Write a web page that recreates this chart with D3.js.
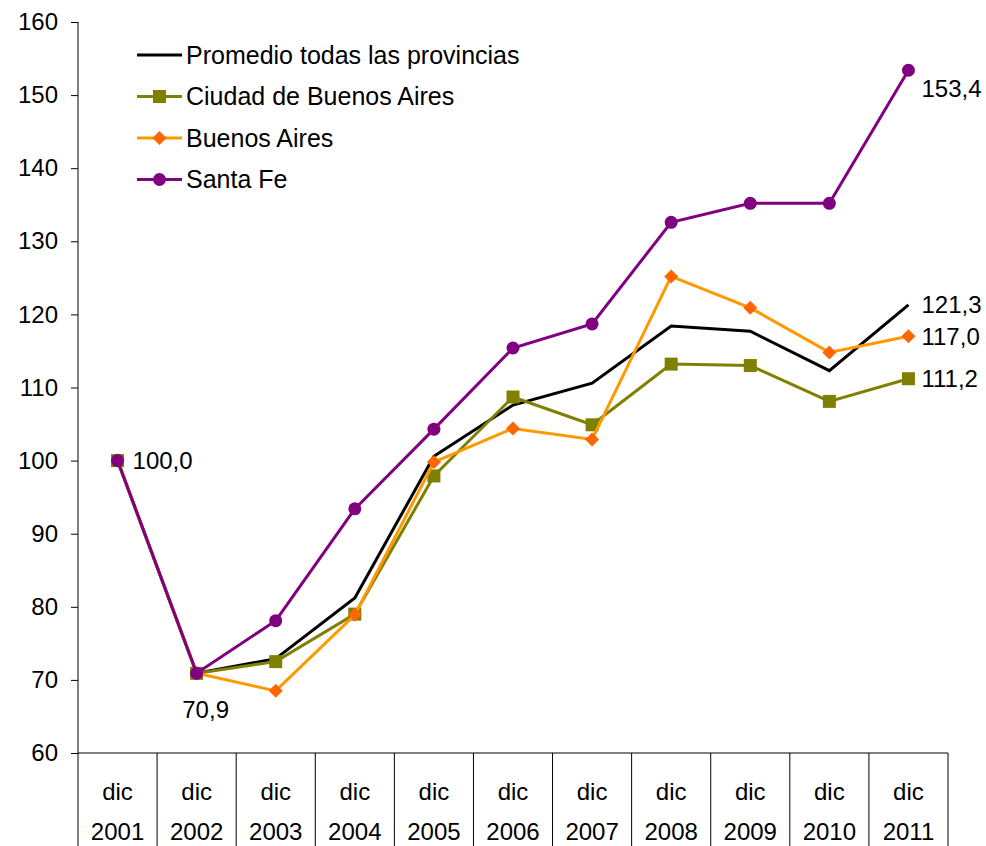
<!DOCTYPE html>
<html>
<head>
<meta charset="utf-8">
<script src="https://cdn.jsdelivr.net/npm/d3@7"></script>
<style>
  body { margin: 0; background: #fff; }
  svg text { font-family: "Liberation Sans", Arial, sans-serif; fill: #000; }
</style>
</head>
<body>
<svg width="986" height="846"></svg>
<script>
// data
const years = ['2001','2002','2003','2004','2005','2006','2007','2008','2009','2010','2011'];
const yTicks = [60, 70, 80, 90, 100, 110, 120, 130, 140, 150, 160];
const promedio = [100.0, 70.9, 72.9, 81.2, 100.6, 107.6, 110.6, 118.4, 117.7, 112.3, 121.3];
const ciudad   = [100.0, 70.9, 72.5, 79.0, 97.9, 108.7, 104.9, 113.2, 113.0, 108.1, 111.2];
const bsas     = [100.0, 70.9, 68.5, 78.9, 99.8, 104.4, 102.9, 125.2, 120.9, 114.8, 117.0];
const santaFe  = [100.0, 70.9, 78.1, 93.4, 104.3, 115.4, 118.7, 132.6, 135.2, 135.2, 153.4];

const series = [
  { name: 'Promedio todas las provincias', values: promedio, line: '#000000', fill: null, marker: 'none' },
  { name: 'Ciudad de Buenos Aires', values: ciudad, line: '#808000', fill: '#808000', marker: 'square' },
  { name: 'Buenos Aires', values: bsas, line: '#FF9900', fill: '#FF6600', marker: 'diamond' },
  { name: 'Santa Fe', values: santaFe, line: '#800080', fill: '#800080', marker: 'circle' }
];

// labels shown on the chart: [series index, point index, text, dx, dy, anchor]
const pointLabels = [
  [3, 0, '100,0', 15, 0, 'start'],
  [3, 1, '70,9', 9, 36, 'middle'],
  [3, 10, '153,4', 13, 18, 'start'],
  [0, 10, '121,3', 13, 0, 'start'],
  [2, 10, '117,0', 13, 0, 'start'],
  [1, 10, '111,2', 13, 0, 'start']
];

const plotLeft = 78, plotRight = 948, plotTop = 22, plotBottom = 753;
const svg = d3.select('svg');

const x = d3.scaleBand().domain(years).range([plotLeft, plotRight]).paddingInner(0).paddingOuter(0);
const y = d3.scaleLinear().domain([60, 160]).range([plotBottom, plotTop]);
const cx = (i) => x(years[i]) + x.bandwidth() / 2;

// y axis
const yAxis = svg.append('g')
  .attr('transform', `translate(${plotLeft},0)`)
  .call(d3.axisLeft(y).tickValues(yTicks).tickSize(7).tickPadding(13).tickFormat(d3.format('d')));
yAxis.select('.domain').attr('stroke', '#000').attr('d', `M0,${plotTop}V846`);
yAxis.selectAll('.tick line').attr('stroke', '#000');
yAxis.selectAll('.tick text').attr('font-size', 24).attr('font-family', '"Liberation Sans", Arial, sans-serif');

// x axis line and category table
svg.append('line')
  .attr('x1', plotLeft).attr('x2', plotRight).attr('y1', plotBottom).attr('y2', plotBottom)
  .attr('stroke', '#000');

const cats = svg.append('g');
cats.selectAll('line.div')
  .data(years.map((d, i) => i + 1))
  .enter().append('line')
  .attr('x1', (i) => x(years[i - 1]) + x.bandwidth())
  .attr('x2', (i) => x(years[i - 1]) + x.bandwidth())
  .attr('y1', plotBottom).attr('y2', 846)
  .attr('stroke', '#000');

cats.selectAll('text.dic')
  .data(years).enter().append('text')
  .attr('x', (d) => x(d) + x.bandwidth() / 2)
  .attr('y', 800)
  .attr('text-anchor', 'middle')
  .attr('font-size', 24)
  .text('dic');

cats.selectAll('text.yr')
  .data(years).enter().append('text')
  .attr('x', (d) => x(d) + x.bandwidth() / 2)
  .attr('y', 840)
  .attr('text-anchor', 'middle')
  .attr('font-size', 24)
  .text((d) => d);

// lines + markers
const line = d3.line().x((d, i) => cx(i)).y((d) => y(d));

function drawMarker(g, type, fill, px, py) {
  if (type === 'square') {
    g.append('rect').attr('x', px - 6.5).attr('y', py - 6.5).attr('width', 13).attr('height', 13).attr('fill', fill);
  } else if (type === 'diamond') {
    g.append('path').attr('d', `M${px},${py - 7}L${px + 7},${py}L${px},${py + 7}L${px - 7},${py}Z`).attr('fill', fill);
  } else if (type === 'circle') {
    g.append('circle').attr('cx', px).attr('cy', py).attr('r', 6.5).attr('fill', fill);
  }
}

series.forEach((s) => {
  const g = svg.append('g');
  g.append('path')
    .datum(s.values)
    .attr('d', line)
    .attr('fill', 'none')
    .attr('stroke', s.line)
    .attr('stroke-width', 3)
    .attr('stroke-linejoin', 'miter');
  s.values.forEach((v, i) => drawMarker(g, s.marker, s.fill, cx(i), y(v)));
});

// data labels
pointLabels.forEach(([si, pi, txt, dx, dy, anchor]) => {
  svg.append('text')
    .attr('x', cx(pi) + dx)
    .attr('y', y(series[si].values[pi]) + dy)
    .attr('dy', '0.35em')
    .attr('text-anchor', anchor)
    .attr('font-size', 24)
    .text(txt);
});

// legend
const legend = svg.append('g').attr('transform', 'translate(137,55)');
series.forEach((s, i) => {
  const row = legend.append('g').attr('transform', `translate(0,${i * 41.5})`);
  row.append('line').attr('x1', 0).attr('x2', 45).attr('y1', 0).attr('y2', 0)
    .attr('stroke', s.line).attr('stroke-width', 3);
  drawMarker(row, s.marker, s.fill, 22.5, 0);
  row.append('text').attr('x', 49).attr('y', 0).attr('dy', '0.35em')
    .attr('font-size', 25).text(s.name);
});
</script>
</body>
</html>
